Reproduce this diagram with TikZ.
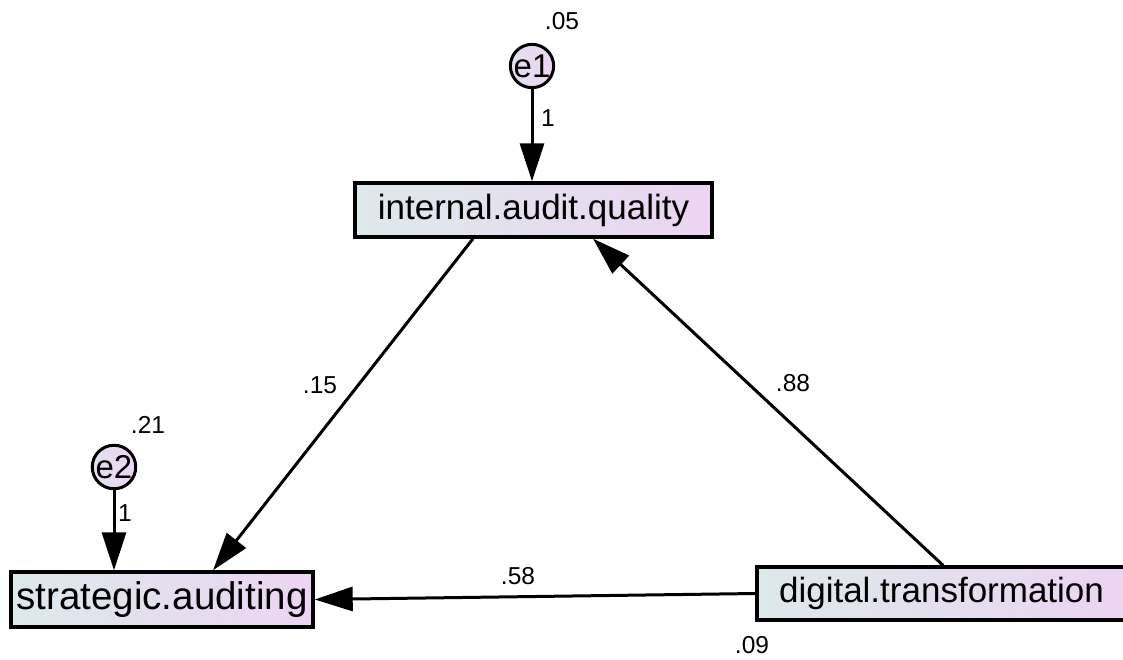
\documentclass[tikz,border=0pt]{standalone}
\usepackage{fontspec}
\setmainfont{Liberation Sans}
\usetikzlibrary{arrows.meta}

\definecolor{boxleft}{RGB}{221,233,235}
\definecolor{boxright}{RGB}{236,212,242}

\tikzset{
    var/.style={draw, line width=3.4pt, left color=boxleft, right color=boxright, inner sep=0pt},
    err/.style={circle, draw, line width=3pt, left color=boxleft!60!boxright, right color=boxright, inner sep=0pt, minimum size=42pt, font=\fontsize{33}{33}\selectfont},
    path/.style={line width=3pt, -{Triangle[length=38pt,width=24pt]}},
    est/.style={font=\fontsize{24.5}{24.5}\selectfont}
}

\begin{document}
\begin{tikzpicture}[x=1pt,y=-1pt]
    \clip (0,0) rectangle (1123,659);

    % observed variables
    \node[var, minimum width=357pt, minimum height=54pt, font=\fontsize{35}{35}\selectfont] (iaq) at (533.5,210) {internal.audit.quality};
    \node[var, minimum width=302pt, minimum height=55pt, font=\fontsize{38.5}{38.5}\selectfont] (sa) at (162,599.5) {strategic.auditing};
    \node[var, minimum width=369pt, minimum height=53pt, font=\fontsize{35}{35}\selectfont] (dt) at (941.5,593.5) {digital.transformation};

    % error terms
    \node[err] (e1) at (532,66) {e1};
    \node[err] (e2) at (114,467) {e2};

    % regression paths
    \draw[path] (e1.south) -- (e1.south |- iaq.north);
    \draw[path] (e2.south) -- (e2.south |- sa.north);
    \draw[path] ([xshift=-60.5pt]iaq.south) -- ([xshift=51pt]sa.north);
    \draw[path] ([xshift=1.5pt]dt.north) -- ([xshift=59.5pt]iaq.south);
    \draw[path] (dt.west) -- (sa.east);

    % estimates
    \node[est] (v1) at (562,21) {.05};
    \node[est] (w1) at (548,118) {1};
    \node[est] (b1) at (320,385) {.15};
    \node[est] (b2) at (793,383) {.88};
    \node[est] (v2) at (148,425) {.21};
    \node[est] (w2) at (125,513) {1};
    \node[est] (b3) at (518,576) {.58};
    \node[est] (v3) at (752,645) {.09};
\end{tikzpicture}
\end{document}
